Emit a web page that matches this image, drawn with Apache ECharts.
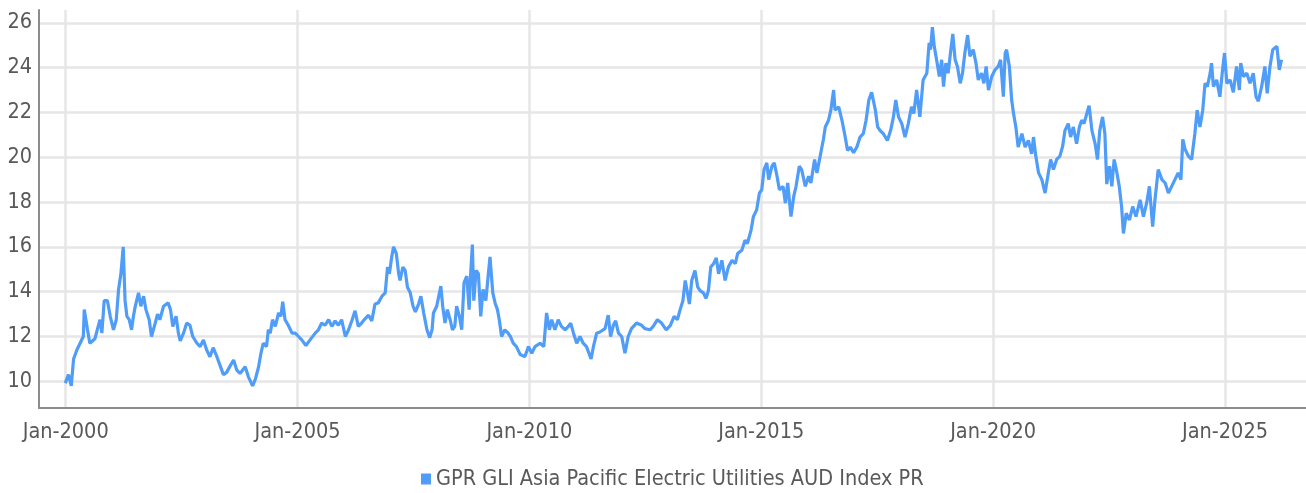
<!DOCTYPE html>
<html>
<head>
<meta charset="utf-8">
<script src="https://cdn.jsdelivr.net/npm/echarts@6/dist/echarts.min.js"></script>
<style>
html,body{margin:0;padding:0;background:#fff;}
#c{width:1306px;height:493px;}
</style>
</head>
<body>
<div id="c"></div>
<script>
// Decimal-year time stamps
const years = [
1999.99,2000.06,2000.12,2000.17,2000.24,2000.31,2000.38,2000.40,2000.47,2000.52,2000.63,2000.70,2000.74,2000.78,2000.83,2000.90,2000.96,
2001.03,2001.09,2001.14,2001.19,2001.24,2001.28,2001.32,2001.37,2001.42,2001.46,2001.50,2001.57,2001.62,2001.68,2001.73,2001.80,2001.85,2001.93,2001.98,
2002.03,2002.11,2002.21,2002.26,2002.31,2002.38,2002.43,2002.47,2002.54,2002.61,2002.68,2002.74,2002.83,2002.90,2002.97,
2003.04,2003.11,2003.18,2003.26,2003.33,2003.40,2003.47,2003.55,2003.62,2003.69,2003.76,2003.87,2003.94,
2004.03,2004.09,2004.16,2004.21,2004.26,2004.33,2004.37,2004.41,2004.46,2004.52,2004.59,2004.64,2004.68,2004.73,2004.80,2004.88,2004.95,
2005.02,2005.09,2005.18,2005.27,2005.38,2005.45,2005.52,2005.59,2005.67,2005.74,2005.81,2005.88,2005.95,
2006.03,2006.10,2006.17,2006.24,2006.31,2006.38,2006.46,2006.53,2006.60,2006.67,2006.74,2006.82,2006.89,2006.94,2006.98,
2007.03,2007.07,2007.13,2007.18,2007.21,2007.27,2007.32,2007.37,2007.43,2007.49,2007.54,2007.61,2007.66,2007.72,2007.79,2007.85,2007.90,2007.93,
2008.00,2008.06,2008.09,2008.13,2008.18,2008.23,2008.29,2008.34,2008.39,2008.43,2008.49,2008.54,2008.59,2008.65,2008.70,2008.73,2008.77,2008.80,2008.85,2008.90,2008.95,
2009.00,2009.06,2009.11,2009.15,2009.21,2009.26,2009.31,2009.35,2009.40,2009.47,2009.54,2009.59,2009.65,2009.72,2009.80,2009.90,2009.98,
2010.05,2010.12,2010.23,2010.31,2010.37,2010.43,2010.48,2010.55,2010.62,2010.69,2010.77,2010.84,2010.89,2010.95,
2011.02,2011.09,2011.16,2011.23,2011.33,2011.38,2011.45,2011.52,2011.63,2011.70,2011.75,2011.81,2011.86,2011.92,2011.99,
2012.06,2012.13,2012.20,2012.31,2012.42,2012.49,2012.60,2012.67,2012.76,2012.85,2012.95,
2013.04,2013.12,2013.19,2013.25,2013.31,2013.36,2013.40,2013.45,2013.50,2013.57,2013.63,2013.68,2013.75,2013.81,2013.86,2013.91,2013.97,
2014.03,2014.08,2014.15,2014.22,2014.29,2014.37,2014.44,2014.49,2014.58,2014.65,2014.70,2014.78,2014.83,2014.90,2014.96,
2015.01,2015.06,2015.12,2015.16,2015.23,2015.28,2015.34,2015.39,2015.47,2015.52,2015.57,2015.64,2015.70,2015.75,2015.82,2015.87,2015.95,
2016.02,2016.07,2016.15,2016.20,2016.27,2016.34,2016.38,2016.45,2016.50,2016.56,2016.59,2016.67,2016.74,2016.81,2016.86,2016.92,2016.99,
2017.06,2017.13,2017.20,2017.26,2017.32,2017.38,2017.46,2017.51,2017.56,2017.63,2017.72,2017.79,2017.85,2017.90,2017.96,
2018.03,2018.10,2018.17,2018.24,2018.29,2018.35,2018.42,2018.49,2018.57,2018.62,2018.65,2018.69,2018.73,2018.78,2018.84,2018.89,2018.93,2018.98,
2019.03,2019.08,2019.13,2019.18,2019.23,2019.29,2019.34,2019.39,2019.45,2019.50,2019.57,2019.63,2019.68,2019.75,2019.80,2019.85,2019.90,2019.97,
2020.04,2020.11,2020.16,2020.22,2020.26,2020.29,2020.35,2020.40,2020.44,2020.49,2020.54,2020.62,2020.69,2020.76,2020.83,2020.87,2020.92,2020.98,
2021.05,2021.12,2021.19,2021.24,2021.30,2021.37,2021.44,2021.50,2021.55,2021.62,2021.67,2021.73,2021.80,2021.86,2021.91,2021.96,
2022.02,2022.07,2022.13,2022.20,2022.25,2022.30,2022.36,2022.41,2022.45,2022.51,2022.56,2022.61,2022.67,2022.72,2022.77,2022.81,2022.87,2022.94,
2023.01,2023.08,2023.17,2023.24,2023.31,2023.37,2023.44,2023.49,2023.56,2023.64,2023.71,2023.78,2023.85,2023.92,2023.99,
2024.05,2024.09,2024.14,2024.21,2024.28,2024.35,2024.40,2024.46,2024.52,2024.57,2024.62,2024.68,2024.71,2024.75,2024.82,2024.89,2024.94,2024.99,
2025.04,2025.11,2025.18,2025.25,2025.31,2025.34,2025.40,2025.47,2025.54,2025.61,2025.67,2025.72,2025.79,2025.86,2025.91,2025.97,
2026.03,2026.12,2026.17,2026.22
];
const values = [
9.92,10.3,9.8,11.0,11.4,11.7,12.0,13.2,12.3,11.7,11.9,12.45,12.75,12.15,13.6,13.6,12.9,
12.3,12.75,14.1,14.8,16.0,13.6,12.9,12.75,12.3,12.9,13.35,13.95,13.35,13.8,13.2,12.75,12.0,12.6,13.0,
12.75,13.35,13.5,13.2,12.45,12.9,12.15,11.8,12.15,12.6,12.5,12.0,11.7,11.55,11.85,
11.4,11.1,11.5,11.1,10.7,10.3,10.4,10.7,10.95,10.5,10.35,10.65,10.2,
9.8,10.1,10.65,11.25,11.7,11.55,12.3,12.15,12.75,12.45,13.05,12.9,13.55,12.75,12.5,12.15,12.15,
12.0,11.85,11.6,11.85,12.15,12.3,12.6,12.5,12.75,12.45,12.7,12.5,12.75,
12.0,12.3,12.7,13.15,12.45,12.6,12.8,12.95,12.7,13.45,13.5,13.8,13.95,15.1,14.8,
15.55,16.0,15.7,14.8,14.5,15.1,14.95,14.2,13.95,13.35,13.1,13.45,13.8,13.05,12.3,11.95,12.3,13.05,
13.35,13.95,14.25,13.35,12.6,13.2,12.75,12.3,12.45,13.35,12.9,12.3,14.4,14.7,13.2,14.7,16.1,13.6,14.95,14.8,12.9,
14.1,13.6,14.7,15.55,13.95,13.5,13.2,12.75,12.0,12.3,12.15,12.0,11.7,11.55,11.2,11.1,11.55,
11.25,11.55,11.7,11.55,13.05,12.3,12.75,12.3,12.75,12.45,12.3,12.45,12.6,12.15,
11.7,12.0,11.7,11.55,11.0,11.55,12.15,12.2,12.35,12.95,12.0,12.5,12.7,12.15,12.0,
11.25,12.0,12.35,12.6,12.5,12.35,12.3,12.45,12.75,12.6,12.3,
12.5,12.9,12.75,13.2,13.6,14.5,14.05,13.45,14.5,14.95,14.2,14.05,13.95,13.7,14.05,15.1,15.25,
15.5,14.8,15.4,14.5,15.1,15.4,15.25,15.7,15.85,16.3,16.15,16.75,17.35,17.65,18.4,
18.55,19.45,19.75,19.0,19.6,19.75,19.15,18.55,18.7,17.95,18.85,17.35,18.25,18.7,19.6,19.45,18.7,
19.15,18.85,19.9,19.3,20.05,20.8,21.35,21.65,22.1,23.0,22.1,22.25,21.65,20.9,20.3,20.45,20.2,
20.45,20.9,21.05,21.65,22.55,22.9,22.1,21.35,21.2,21.05,20.75,21.2,21.8,22.55,21.8,
21.5,20.9,21.5,22.25,21.95,23.0,21.8,23.45,23.75,25.1,24.8,25.8,24.95,24.35,23.6,24.35,23.15,24.2,
23.75,24.65,25.5,24.35,24.05,23.3,23.75,24.65,25.45,24.5,24.8,24.2,23.45,23.75,23.3,24.05,23.0,23.6,
23.9,24.05,24.35,22.7,24.65,24.8,24.05,22.55,21.95,21.35,20.45,21.05,20.45,20.75,20.15,20.9,20.05,19.3,
19.0,18.4,19.3,19.9,19.45,19.9,20.05,20.5,21.2,21.5,20.9,21.35,20.6,21.35,21.65,21.5,
21.95,22.3,21.2,20.6,19.9,21.2,21.8,21.05,18.8,19.6,18.7,19.9,19.3,18.7,17.8,16.6,17.5,17.2,
17.8,17.35,18.1,17.35,17.95,18.7,16.9,18.1,19.45,19.0,18.85,18.4,18.7,19.0,19.3,
19.0,20.8,20.35,20.05,19.9,21.05,22.1,21.35,22.1,23.3,23.15,23.75,24.2,23.15,23.45,22.7,23.75,24.65,
23.3,23.45,22.9,24.05,23.0,24.2,23.6,23.75,23.3,23.75,22.7,22.5,23.15,24.05,22.85,24.05,
24.8,24.95,23.9,24.35
];
const seriesName = 'GPR GLI Asia Pacific Electric Utilities AUD Index PR';
const yTicks = [10,12,14,16,18,20,22,24,26];
const xTickYears = [2000,2005,2010,2015,2020,2025];

const seriesData = years.map((y,i)=>[y, values[i]]);

const FONT = '"Liberation Sans Narrow","DejaVu Sans Condensed","Roboto",sans-serif';
const FS = 21.5;
const chart = echarts.init(document.getElementById('c'), null, {renderer:'canvas'});
chart.setOption({
  animation:false,
  backgroundColor:'#ffffff',
  textStyle:{fontFamily:FONT},
  grid:{left:39, right:0, top:10, bottom:85, containLabel:false, outerBoundsMode:'none'},
  legend:{
    top:463, left:416,
    icon:'rect', itemWidth:10, itemHeight:11, itemGap:10,
    textStyle:{fontFamily:FONT, fontSize:FS, color:'#595959'},
    data:[seriesName]
  },
  xAxis:{
    type:'value',
    min:1999.424, max:2026.747,
    axisLine:{show:true, lineStyle:{color:'#8c8c8c', width:2}},
    axisTick:{show:false, customValues:xTickYears},
    axisLabel:{
      customValues:xTickYears, fontFamily:FONT, fontSize:FS, color:'#595959', margin:13,
      formatter:(v)=>'Jan-' + Math.round(v)
    },
    splitLine:{show:true, lineStyle:{color:'#e6e6e6', width:2.5}}
  },
  yAxis:{
    type:'value', min:8.81, max:26.57,
    axisLine:{show:true, lineStyle:{color:'#8c8c8c', width:2}},
    axisTick:{show:false, customValues:yTicks},
    axisLabel:{customValues:yTicks, fontFamily:FONT, fontSize:FS, color:'#595959', margin:7},
    splitLine:{show:true, lineStyle:{color:'#e6e6e6', width:2.5}}
  },
  series:[{
    name:seriesName, type:'line', data:seriesData,
    showSymbol:false, symbol:'none',
    lineStyle:{color:'#4f9cf9', width:3.2},
    itemStyle:{color:'#4f9cf9'}
  }]
});
</script>
</body>
</html>
